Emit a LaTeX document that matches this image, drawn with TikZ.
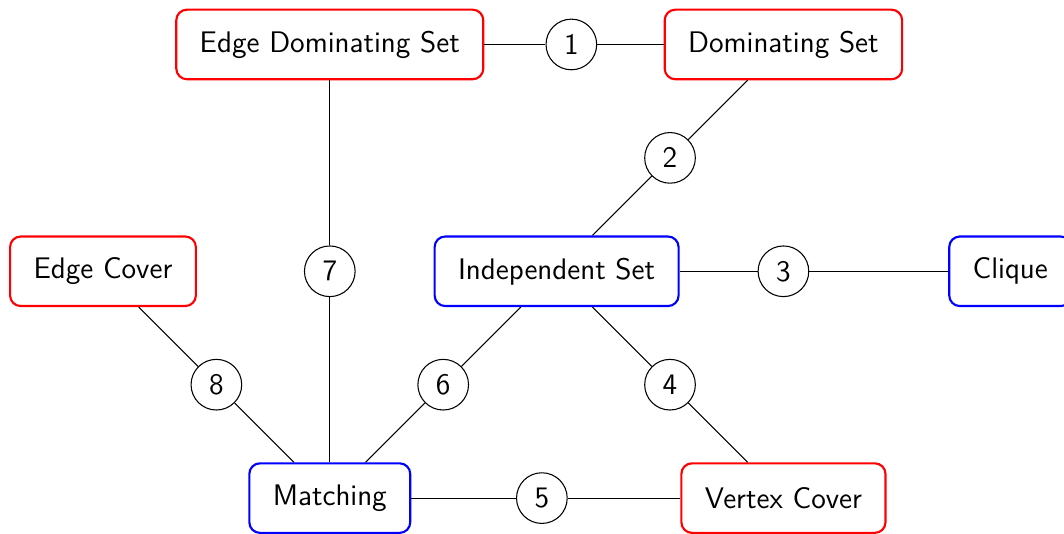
\documentclass[tikz,border=0pt]{standalone}
\usepackage{tikz}
\renewcommand{\familydefault}{\sfdefault}
\tikzset{
  every node/.style={font=\fontsize{11.2}{13}\selectfont},
  prob/.style={draw,thick,rounded corners,inner xsep=0.31cm,minimum height=0.92cm},
  hard/.style={prob,draw=red},
  easy/.style={prob,draw=blue},
  num/.style={draw,circle,inner sep=0pt,minimum size=0.67cm}
}

\begin{document}
\begin{tikzpicture}[x=1.5cm,y=1.5cm]
  \useasboundingbox (-0.908,-0.309) rectangle (8.474,4.392);
  \node[hard] (eds) at (2,4) {Edge Dominating Set};
  \node[hard] (ds) at (6,4) {Dominating Set};
  \node[hard] (ec) at (0,2) {Edge Cover};
  \node[easy] (is) at (4,2) {Independent Set};
  \node[easy] (cl) at (8,2) {Clique};
  \node[easy] (mt) at (2,0) {Matching};
  \node[hard] (vc) at (6,0) {Vertex Cover};
  \foreach \n/\p in {1/{4.13,4},2/{5,3},3/{6,2},4/{5,1},5/{3.87,0},6/{3,1},7/{2,2},8/{1,1}}
    \node[num] (c\n) at (\p) {\n};
  \foreach \a/\n/\b in {eds/1/ds,ds/2/is,is/3/cl,is/4/vc,mt/5/vc,mt/6/is,mt/7/eds,mt/8/ec}
    \draw (\a) -- (c\n) -- (\b);
\end{tikzpicture}
\end{document}
